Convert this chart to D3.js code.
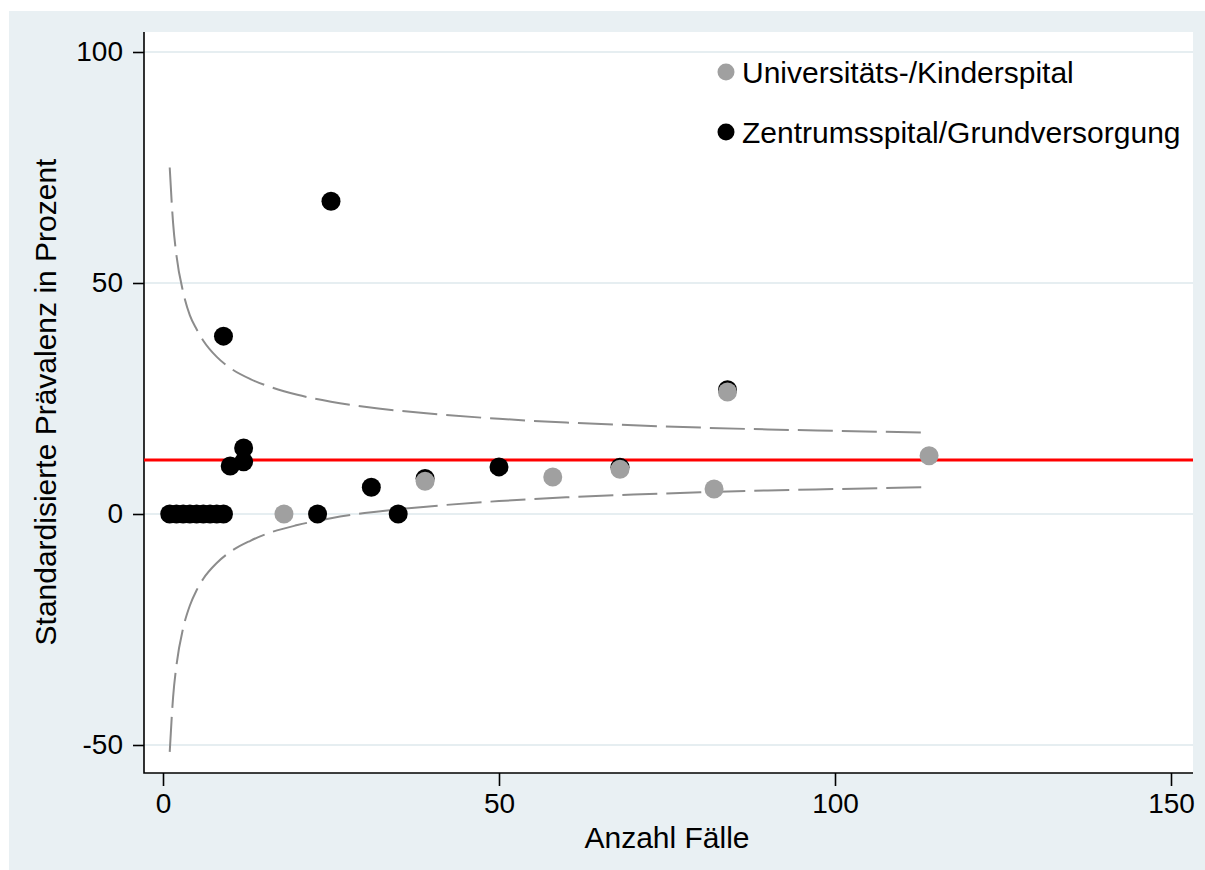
<html>
<head>
  <meta charset="utf-8">
  <style>
    body { margin: 0; background: #fff; }
    text { font-family: "Liberation Sans", Arial, Helvetica, sans-serif; fill: #000; }
  </style>
</head>
<body>
  <svg></svg>
  <script src="https://d3js.org/d3.v7.min.js"></script>
  <script>
    // values
    let uniN = [18, 39, 58, 68, 82, 84, 114];
    let uniP = [0, 7.1, 8.0, 9.7, 5.4, 26.4, 12.6];

    let zentN = [1, 2, 3, 4, 5, 6, 7, 8, 9, 9, 10, 12, 12, 23, 25, 31, 35, 39, 50, 68, 84];
    let zentP = [0, 0, 0, 0, 0, 0, 0, 0, 0, 38.5, 10.4, 11.3, 14.3, 0, 67.7, 5.8, 0, 7.7, 10.2, 10.1, 26.9];

    let meanP = 11.7;

    // funnel limits, read at a few case counts
    let limN = [1, 1.5, 2, 3, 4, 5, 6, 8, 10, 13, 16, 20, 25, 30, 40, 50, 60, 70, 80, 90, 100, 114];
    let limUpper = [75, 63, 56, 48, 43, 40, 37.5, 34, 31.6, 29.2, 27.5, 25.8, 24.3, 23.2, 21.7, 20.6, 19.8, 19.2, 18.7, 18.3, 18.0, 17.6];
    let limLower = [-51.5, -39.7, -32.8, -24.7, -19.8, -16.5, -14.0, -10.6, -8.2, -5.8, -4.0, -2.4, -0.9, 0.2, 1.7, 2.8, 3.6, 4.2, 4.7, 5.1, 5.4, 5.8];

    let xTicks = [0, 50, 100, 150];
    let yTicks = [100, 50, 0, -50];

    let legendLabels = ["Universitäts-/Kinderspital", "Zentrumsspital/Grundversorgung"];

    let width = 1205, height = 870;
    let grey = "#a0a0a0";

    let svg = d3.select("svg")
      .attr("width", width)
      .attr("height", height);

    // outer region + plot region
    let pLeft = 144, pRight = 1193, pTop = 32, pBottom = 773;
    svg.append("rect").attr("x", 9).attr("y", 11)
      .attr("width", width - 9).attr("height", height - 11)
      .attr("fill", "#e9f0f3");
    svg.append("rect").attr("x", pLeft).attr("y", pTop)
      .attr("width", pRight - pLeft).attr("height", pBottom - pTop)
      .attr("fill", "#fff");

    let x = d3.scaleLinear().domain([0, 150]).range([163, 1171]);
    let y = d3.scaleLinear().domain([-50, 100]).range([745, 52]);

    // gridlines
    svg.append("g").selectAll("line")
      .data(yTicks).enter().append("line")
      .attr("x1", pLeft).attr("x2", pRight)
      .attr("y1", d => y(d)).attr("y2", d => y(d))
      .attr("stroke", "#e6eef1").attr("stroke-width", 2);

    // axes
    let yAxis = svg.append("g")
      .attr("transform", "translate(" + pLeft + ",0)")
      .call(d3.axisLeft(y).tickValues(yTicks).tickSize(11).tickPadding(10).tickFormat(d => String(d)));
    let xAxis = svg.append("g")
      .attr("transform", "translate(0," + pBottom + ")")
      .call(d3.axisBottom(x).tickValues(xTicks).tickSize(13).tickPadding(7).tickFormat(d => String(d)));
    [xAxis, yAxis].forEach(a => {
      a.select(".domain").remove();
      a.selectAll("line").attr("stroke", "#000").attr("stroke-width", 1.6);
      a.selectAll("text").style("font-size", "28px")
        .style("font-family", '"Liberation Sans", Arial, sans-serif').attr("fill", "#000");
    });
    svg.append("path")
      .attr("d", "M" + pLeft + "," + pTop + "V" + pBottom + "H" + pRight)
      .attr("fill", "none").attr("stroke", "#000").attr("stroke-width", 1.6);

    // axis titles
    svg.append("text")
      .attr("x", 667).attr("y", 848)
      .attr("text-anchor", "middle")
      .style("font-size", "30px")
      .text("Anzahl Fälle");
    svg.append("text")
      .attr("transform", "translate(56,402) rotate(-90)")
      .attr("text-anchor", "middle")
      .style("font-size", "30px")
      .text("Standardisierte Prävalenz in Prozent");

    // funnel limits
    let line = d3.line()
      .x(d => x(d[0])).y(d => y(d[1]))
      .curve(d3.curveMonotoneX);
    [limUpper, limLower].forEach(lim => {
      svg.append("path")
        .datum(limN.map((n, i) => [n, lim[i]]))
        .attr("d", line)
        .attr("fill", "none")
        .attr("stroke", "#8c8c8c")
        .attr("stroke-width", 2)
        .attr("stroke-dasharray", "35,9");
    });

    // overall mean
    svg.append("line")
      .attr("x1", pLeft).attr("x2", pRight)
      .attr("y1", y(meanP)).attr("y2", y(meanP))
      .attr("stroke", "#ff0000").attr("stroke-width", 3);

    // points
    svg.append("g").selectAll("circle")
      .data(zentN.map((n, i) => [n, zentP[i]]))
      .enter().append("circle")
      .attr("cx", d => x(d[0])).attr("cy", d => y(d[1]))
      .attr("r", 9.5).attr("fill", "#000");
    svg.append("g").selectAll("circle")
      .data(uniN.map((n, i) => [n, uniP[i]]))
      .enter().append("circle")
      .attr("cx", d => x(d[0])).attr("cy", d => y(d[1]))
      .attr("r", 9.5).attr("fill", grey);

    // legend
    let legend = svg.append("g").selectAll("g")
      .data(legendLabels).enter().append("g")
      .attr("transform", (d, i) => "translate(726," + (72 + i * 60) + ")");
    legend.append("circle")
      .attr("r", 8.5)
      .attr("fill", (d, i) => i == 0 ? grey : "#000");
    legend.append("text")
      .attr("x", 16).attr("y", 11)
      .style("font-size", "30px")
      .text(d => d);
  </script>
</body>
</html>
